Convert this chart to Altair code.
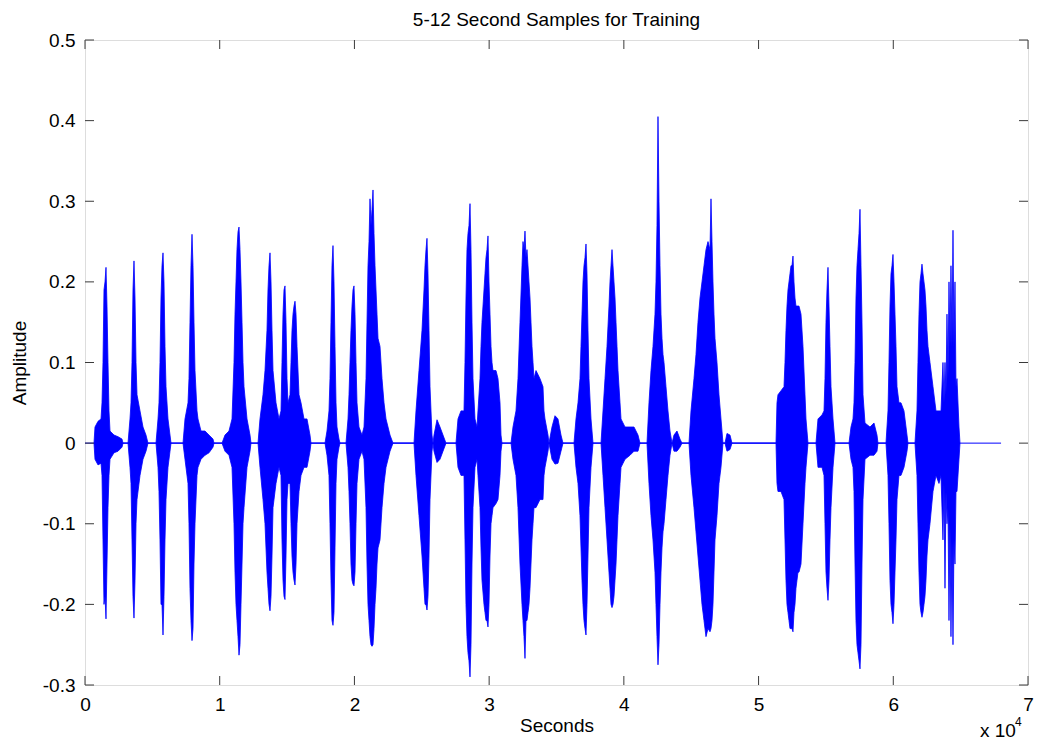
import altair as alt
import pandas as pd

chart_title = "5-12 Second Samples for Training"
x_title = "Seconds"
y_title = "Amplitude"

# waveform envelope: (sample index, upper amplitude, lower amplitude)
burst_01 = [(668, 0, 0), (742, .02, -.02), (965, .027, -.027), (1188, .03, -.025), (1262, .05, -.04),
            (1336, .1, -.12), (1410, .19, -.2), (1485, .2, -.19), (1559, .218, -.218), (1633, .17, -.15),
            (1707, .1, -.08), (1781, .04, -.04), (1856, .015, -.02), (2153, .01, -.012), (2450, .008, -.01),
            (2747, .005, -.005), (2821, 0, 0)]
burst_02 = [(3192, 0, 0), (3340, .03, -.03), (3415, .05, -.05), (3489, .1, -.12), (3563, .19, -.19),
            (3637, .226, -.217), (3712, .18, -.17), (3786, .1, -.1), (3860, .06, -.07), (4083, .04, -.04),
            (4305, .02, -.02), (4528, .01, -.01), (4677, 0, 0)]
burst_03 = [(5270, 0, 0), (5419, .03, -.03), (5493, .05, -.06), (5567, .1, -.12), (5641, .18, -.2),
            (5716, .22, -.2), (5790, .236, -.238), (5864, .2, -.19), (5938, .12, -.12), (6013, .07, -.07),
            (6161, .03, -.03), (6310, .01, -.01), (6384, 0, 0)]
burst_04 = [(7275, 0, 0), (7423, .03, -.02), (7646, .05, -.05), (7720, .08, -.1), (7794, .15, -.18),
            (7868, .22, -.22), (7943, .259, -.245), (8017, .22, -.23), (8091, .15, -.15), (8165, .09, -.1),
            (8314, .04, -.04), (8388, .03, -.03), (8611, .015, -.02), (8908, .015, -.015), (9205, .01, -.012),
            (9502, .005, -.005), (9576, 0, 0)]
burst_05 = [(10170, 0, 0), (10392, .01, -.01), (10689, .015, -.015), (10912, .03, -.03), (11060, .1, -.1),
            (11135, .16, -.16), (11209, .2, -.2), (11283, .24, -.22), (11358, .262, -.24), (11432, .268, -.263),
            (11506, .24, -.25), (11580, .2, -.2), (11655, .15, -.15), (11729, .1, -.1), (11803, .07, -.08),
            (12026, .03, -.03), (12249, .01, -.01), (12322, 0, 0)]
burst_06 = [(12842, 0, 0), (12990, .03, -.03), (13213, .06, -.07), (13362, .09, -.1), (13510, .14, -.16),
            (13584, .19, -.18), (13659, .22, -.2), (13733, .236, -.208), (13807, .2, -.19), (13881, .14, -.14),
            (13956, .09, -.08), (14178, .05, -.05), (14401, .03, -.03)]
burst_07 = [(14549, .04, -.04), (14623, .1, -.12), (14698, .16, -.17), (14772, .19, -.19), (14847, .195, -.194),
            (14921, .15, -.14), (14995, .08, -.07), (15070, .05, -.05), (15218, .06, -.05), (15292, .1, -.1),
            (15366, .14, -.14), (15441, .16, -.16), (15515, .17, -.17), (15589, .176, -.176), (15663, .16, -.15),
            (15737, .12, -.1), (15886, .06, -.06), (16034, .05, -.04), (16257, .03, -.03), (16480, .03, -.03),
            (16702, .01, -.01), (16776, 0, 0)]
burst_08 = [(17815, 0, 0), (17963, .015, -.015), (18112, .04, -.04), (18186, .08, -.1), (18260, .15, -.17),
            (18335, .22, -.22), (18409, .245, -.226), (18483, .2, -.21), (18558, .12, -.13), (18632, .05, -.05),
            (18706, .02, -.02), (18855, .005, -.005), (18929, 0, 0)]
burst_09 = [(19374, 0, 0), (19523, .03, -.03), (19597, .06, -.06), (19671, .1, -.1), (19745, .14, -.15),
            (19820, .17, -.17), (19894, .19, -.175), (19968, .195, -.177), (20043, .16, -.16), (20117, .1, -.1),
            (20191, .05, -.05), (20339, .02, -.02), (20562, .01, -.01)]
burst_10 = [(20711, .02, -.02), (20859, .08, -.08), (20934, .15, -.15), (21008, .22, -.2), (21082, .25, -.22),
            (21156, .303, -.24), (21230, .27, -.25), (21305, .29, -.252), (21379, .314, -.25), (21453, .26, -.23),
            (21528, .22, -.2), (21602, .19, -.18), (21676, .16, -.15), (21750, .13, -.13), (21899, .12, -.12),
            (22047, .08, -.08), (22196, .05, -.05), (22344, .03, -.03), (22641, .01, -.01), (22864, 0, 0)]
burst_11 = [(24422, 0, 0), (24570, .04, -.04), (24793, .09, -.09), (25016, .14, -.14), (25164, .19, -.18),
            (25239, .22, -.2), (25313, .24, -.2), (25387, .254, -.207), (25461, .21, -.19), (25535, .14, -.14),
            (25610, .07, -.07), (25758, .01, -.01), (25833, 0, 0), (25907, .01, -.01), (26130, .029, -.024),
            (26352, .02, -.02), (26575, .01, -.01), (26798, 0, 0)]
burst_12 = [(27539, 0, 0), (27688, .03, -.03), (27910, .04, -.04), (28133, .04, -.04), (28207, .1, -.12),
            (28282, .18, -.2), (28356, .24, -.24), (28430, .26, -.26), (28504, .27, -.27), (28579, .297, -.29),
            (28653, .24, -.25), (28727, .15, -.15), (28801, .08, -.08), (28950, .03, -.03), (29098, .02, -.02)]
burst_13 = [(29172, .04, -.04), (29321, .08, -.08), (29395, .12, -.13), (29469, .15, -.17), (29618, .19, -.2),
            (29692, .21, -.21), (29766, .23, -.22), (29840, .24, -.22), (29915, .257, -.228), (29989, .2, -.2),
            (30064, .16, -.14), (30138, .12, -.1), (30212, .1, -.09), (30286, .09, -.08), (30509, .09, -.075),
            (30657, .08, -.07), (30806, .05, -.04), (30880, .01, -.01), (30955, 0, 0)]
burst_14 = [(31622, 0, 0), (31770, .02, -.02), (31993, .04, -.04), (32142, .08, -.08), (32290, .15, -.15),
            (32439, .22, -.2), (32513, .25, -.22), (32587, .24, -.24), (32661, .263, -.267), (32736, .23, -.22),
            (32810, .24, -.22), (32884, .22, -.21), (32958, .2, -.2), (33033, .18, -.18), (33107, .15, -.15),
            (33181, .12, -.12), (33256, .1, -.1), (33330, .08, -.08), (33478, .09, -.08), (33775, .08, -.07),
            (33997, .07, -.07), (34071, .04, -.04), (34146, .03, -.03), (34368, .01, -.01), (34442, 0, 0),
            (34665, .02, -.02), (34888, .034, -.026), (35110, .03, -.025), (35333, .01, -.01), (35482, 0, 0)]
burst_15 = [(36298, 0, 0), (36447, .03, -.03), (36596, .05, -.05), (36744, .08, -.09), (36818, .12, -.13),
            (36893, .16, -.17), (36967, .2, -.2), (37041, .22, -.22), (37115, .23, -.23), (37190, .247, -.238),
            (37264, .21, -.2), (37338, .14, -.14), (37412, .08, -.08), (37561, .03, -.03), (37710, 0, 0)]
burst_16 = [(38303, 0, 0), (38452, .04, -.04), (38601, .08, -.08), (38749, .12, -.12), (38897, .17, -.16),
            (38972, .2, -.18), (39046, .22, -.2), (39120, .24, -.204), (39194, .22, -.2), (39268, .2, -.19),
            (39343, .18, -.17), (39417, .15, -.15), (39491, .12, -.12), (39565, .09, -.09), (39714, .05, -.05),
            (39788, .03, -.03), (40085, .02, -.02), (40456, .02, -.015), (40753, .02, -.01), (41050, .01, -.01),
            (41198, 0, 0)]
burst_17 = [(41717, 0, 0), (41866, .05, -.05), (42014, .09, -.09), (42163, .12, -.12), (42311, .16, -.16),
            (42385, .2, -.2), (42460, .27, -.24), (42534, .405, -.275), (42608, .3, -.25), (42683, .22, -.2),
            (42757, .16, -.16), (42831, .13, -.13), (42906, .11, -.11), (42980, .1, -.1), (43128, .07, -.07),
            (43276, .04, -.04), (43425, .015, -.015), (43574, 0, 0), (43721, .01, -.01), (43944, .015, -.01),
            (44167, .005, -.005), (44315, 0, 0)]
burst_18 = [(44835, 0, 0), (44983, .04, -.04), (45206, .08, -.08), (45355, .11, -.11), (45503, .15, -.14),
            (45652, .18, -.17), (45800, .2, -.2), (45949, .22, -.22), (46097, .24, -.24), (46246, .25, -.23),
            (46394, .24, -.234), (46468, .303, -.23), (46542, .25, -.22), (46616, .2, -.2), (46691, .16, -.16),
            (46765, .13, -.12), (46913, .1, -.09), (47062, .06, -.05), (47210, .03, -.03), (47359, 0, 0),
            (47507, 0, 0), (47656, .012, -.01), (47879, .01, -.008), (48027, 0, 0)]
burst_19 = [(51293, 0, 0), (51367, .05, -.05), (51441, .06, -.06), (51664, .065, -.06), (51887, .07, -.07),
            (51961, .1, -.12), (52035, .14, -.17), (52110, .17, -.2), (52184, .19, -.21), (52258, .2, -.22),
            (52332, .21, -.23), (52406, .22, -.23), (52481, .22, -.23), (52555, .232, -.234), (52629, .2, -.21),
            (52703, .18, -.2), (52777, .17, -.18), (52852, .17, -.17), (52926, .17, -.16), (53000, .17, -.16),
            (53149, .16, -.15), (53297, .12, -.1), (53446, .06, -.05), (53520, .03, -.03), (53669, 0, 0)]
burst_20 = [(54262, 0, 0), (54411, .03, -.03), (54708, .035, -.03), (54857, .04, -.04), (54931, .08, -.1),
            (55005, .15, -.16), (55079, .19, -.18), (55153, .218, -.195), (55228, .17, -.17), (55302, .12, -.12),
            (55376, .07, -.08), (55525, .03, -.03), (55674, 0, 0)]
burst_21 = [(56712, 0, 0), (56861, .02, -.02), (57009, .03, -.03), (57083, .05, -.06), (57158, .1, -.15),
            (57232, .18, -.22), (57306, .22, -.25), (57380, .24, -.26), (57455, .26, -.27), (57529, .29, -.28),
            (57603, .22, -.25), (57677, .15, -.15), (57752, .06, -.07), (57900, .025, -.02), (58271, .02, -.015),
            (58568, .025, -.015), (58791, .01, -.01), (58865, 0, 0)]
burst_22 = [(59458, 0, 0), (59607, .04, -.04), (59681, .1, -.1), (59756, .17, -.17), (59830, .21, -.2),
            (59904, .22, -.21), (59978, .234, -.224), (60053, .2, -.2), (60127, .16, -.16), (60201, .12, -.12),
            (60275, .07, -.07), (60424, .05, -.04), (60572, .05, -.04), (60795, .04, -.03), (61018, .01, -.01),
            (61092, 0, 0)]
burst_23 = [(61610, 0, 0), (61759, .04, -.04), (61833, .1, -.1), (61908, .16, -.16), (61982, .2, -.2),
            (62056, .21, -.21), (62130, .222, -.216), (62205, .21, -.21), (62279, .2, -.2), (62353, .19, -.19),
            (62427, .17, -.17), (62501, .14, -.14), (62576, .12, -.12), (62724, .1, -.1), (62947, .07, -.06),
            (63170, .04, -.04), (63392, .04, -.05), (63541, .04, -.04), (63689, .1, -.12), (63764, .05, -.05),
            (63838, .1, -.18), (63912, .06, -.06), (63986, .16, -.1), (64061, .08, -.08), (64135, .2, -.22),
            (64209, .12, -.1), (64283, .22, -.24), (64358, .12, -.12), (64432, .264, -.25), (64506, .12, -.12),
            (64580, .2, -.15), (64655, .07, -.06), (64729, .08, -.06), (64877, .02, -.02), (64952, 0, 0)]

bursts = [burst_01, burst_02, burst_03, burst_04, burst_05, burst_06, burst_07, burst_08, burst_09,
          burst_10, burst_11, burst_12, burst_13, burst_14, burst_15, burst_16, burst_17, burst_18,
          burst_19, burst_20, burst_21, burst_22, burst_23]

signal_start = 0
signal_end = 68000

x_ticks = [0, 10000, 20000, 30000, 40000, 50000, 60000, 70000]
y_ticks = [-0.3, -0.2, -0.1, 0, 0.1, 0.2, 0.3, 0.4, 0.5]

rows = [{"s": s, "upper": u, "lower": l} for b in bursts for (s, u, l) in b]
env = pd.DataFrame(rows)

W, H = 943, 645
FONT = "Liberation Sans"
BLUE = "#0000FF"
FRAME = "#3a3a3a"

x_scale = alt.Scale(domain=[0, 70000], nice=False, zero=False)
y_scale = alt.Scale(domain=[-0.3, 0.5], nice=False, zero=False)

x_axis = alt.Axis(values=x_ticks, labelExpr="format(datum.value / 10000, 'd')", ticks=False,
                  domain=False, grid=False, labelPadding=10, titlePadding=2, labelFontSize=19,
                  titleFontSize=19, labelColor="black", titleColor="black", labelFont=FONT,
                  titleFont=FONT, titleFontWeight="normal", labelFlush=False)
y_axis = alt.Axis(values=y_ticks, labelExpr="datum.value == 0 ? '0' : toString(round(datum.value * 10) / 10)",
                  ticks=False, domain=False, grid=False, labelPadding=10, titlePadding=13,
                  labelFontSize=19, titleFontSize=19, labelColor="black", titleColor="black",
                  labelFont=FONT, titleFont=FONT, titleFontWeight="normal", labelFlush=False)

zero_df = pd.DataFrame({"x0": [signal_start], "x1": [signal_end], "y0": [0]})
zero_line = alt.Chart(zero_df).mark_rule(color=BLUE, strokeWidth=1).encode(
    x=alt.X("x0:Q", scale=x_scale, axis=x_axis, title=x_title),
    x2="x1:Q",
    y=alt.Y("y0:Q", scale=y_scale, axis=y_axis, title=y_title),
)

wave = alt.Chart(env).mark_area(color=BLUE, stroke=BLUE, strokeWidth=0.8, opacity=1,
                                interpolate="linear").encode(
    x=alt.X("s:Q", scale=x_scale, axis=x_axis, title=x_title),
    y=alt.Y("upper:Q", scale=y_scale, axis=y_axis, title=y_title),
    y2="lower:Q",
)

yt = pd.DataFrame({"v": y_ticks})
xt = pd.DataFrame({"v": x_ticks})
TL = 9
ytick_left = alt.Chart(yt).mark_rule(color=FRAME, strokeWidth=1).encode(
    y=alt.Y("v:Q", scale=y_scale, axis=y_axis, title=y_title), x=alt.value(0), x2=alt.value(TL))
ytick_right = alt.Chart(yt).mark_rule(color=FRAME, strokeWidth=1).encode(
    y=alt.Y("v:Q", scale=y_scale, axis=y_axis, title=y_title), x=alt.value(W - TL), x2=alt.value(W))
xtick_bottom = alt.Chart(xt).mark_rule(color=FRAME, strokeWidth=1).encode(
    x=alt.X("v:Q", scale=x_scale, axis=x_axis, title=x_title), y=alt.value(H - TL), y2=alt.value(H))
xtick_top = alt.Chart(xt).mark_rule(color=FRAME, strokeWidth=1).encode(
    x=alt.X("v:Q", scale=x_scale, axis=x_axis, title=x_title), y=alt.value(0), y2=alt.value(TL))

text_df = pd.DataFrame({"title": [chart_title], "t": ["x 10"], "e": ["4"]})
title_mark = alt.Chart(text_df).mark_text(font=FONT, fontSize=19, color="black", align="center",
                                          baseline="alphabetic").encode(
    text="title:N", x=alt.value(W / 2), y=alt.value(-14))
exp_base = alt.Chart(text_df).mark_text(font=FONT, fontSize=19, color="black", align="left",
                                        baseline="alphabetic").encode(
    text="t:N", x=alt.value(W - 48), y=alt.value(H + 52))
exp_sup = alt.Chart(text_df).mark_text(font=FONT, fontSize=12, color="black", align="left",
                                       baseline="alphabetic").encode(
    text="e:N", x=alt.value(W - 13), y=alt.value(H + 41))

chart = alt.layer(wave, zero_line, ytick_left, ytick_right, xtick_bottom, xtick_top,
                  title_mark, exp_base, exp_sup).properties(
    width=W, height=H,
    autosize=alt.AutoSizeParams(type="none"),
    padding={"left": 85, "top": 40, "right": 9, "bottom": 57},
).configure_view(stroke=FRAME, strokeWidth=1).configure(background="white")

chart.save("out.html", embed_options={"renderer": "svg", "actions": False})
